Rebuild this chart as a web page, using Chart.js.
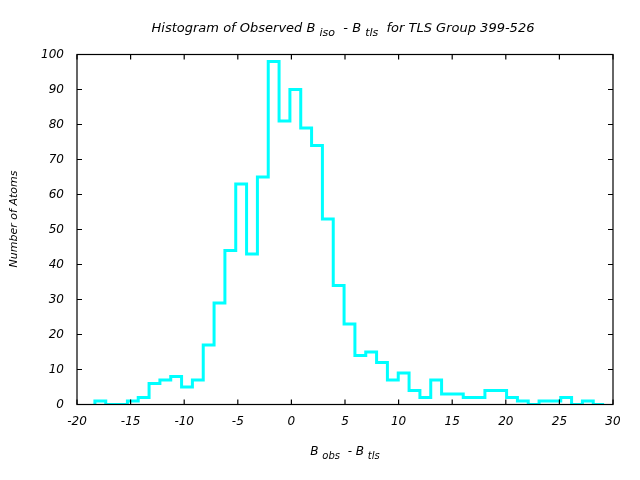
<!DOCTYPE html>
<html>
<head>
<meta charset="utf-8">
<script src="https://cdn.jsdelivr.net/npm/chart.js@4"></script>
<style>
  html, body { margin: 0; padding: 0; background: #fff; }
  #wrap { width: 640px; height: 480px; }
</style>
</head>
<body>
<div id="wrap"><canvas id="histo"></canvas></div>
<script>
// histogram bins (left edge of first bin + bin width), counts
const binStart = -18.33;
const binWidth = 1.0106;
const counts = [1, 0, 0, 1, 2, 6, 7, 8, 5, 7, 17, 29, 44, 63, 43, 65, 98, 81, 90, 79,
  74, 53, 34, 23, 14, 15, 12, 7, 9, 4, 2, 7, 3, 3, 2, 2, 4, 4, 2, 1, 0, 1, 1, 2, 0, 1, 0];
const xTicks = [-20, -15, -10, -5, 0, 5, 10, 15, 20, 25, 30];
const yTicks = [0, 10, 20, 30, 40, 50, 60, 70, 80, 90, 100];

const FONT = 'DejaVu Sans';

// step outline: start at baseline, one point per bin edge, close the last bin
const steps = [{ x: binStart, y: 0 }];
counts.forEach((c, i) => steps.push({ x: binStart + i * binWidth, y: c }));
steps.push({ x: binStart + counts.length * binWidth, y: counts[counts.length - 1] });

// draws "B_{sub}" style text pieces
function drawRich(ctx, parts, x, y, size) {
  const subSize = size - 2;
  let w = 0;
  parts.forEach(p => {
    ctx.font = 'italic ' + (p.sub ? subSize : size) + 'px "' + FONT + '"';
    w += ctx.measureText(p.t).width;
  });
  let cx = x - w / 2;
  ctx.textAlign = 'left';
  ctx.textBaseline = 'alphabetic';
  parts.forEach(p => {
    ctx.font = 'italic ' + (p.sub ? subSize : size) + 'px "' + FONT + '"';
    ctx.fillText(p.t, cx, p.sub ? y + 4 : y);
    cx += ctx.measureText(p.t).width;
  });
}

const framePlugin = {
  id: 'frame',
  afterDraw(chart) {
    const { ctx, chartArea: a, scales } = chart;
    ctx.save();
    ctx.strokeStyle = '#000';
    ctx.lineWidth = 1.2;
    ctx.strokeRect(a.left, a.top, a.right - a.left, a.bottom - a.top);
    ctx.beginPath();
    xTicks.forEach(v => {
      const px = scales.x.getPixelForValue(v);
      ctx.moveTo(px, a.bottom); ctx.lineTo(px, a.bottom - 5);
      ctx.moveTo(px, a.top); ctx.lineTo(px, a.top + 5);
    });
    yTicks.forEach(v => {
      const py = scales.y.getPixelForValue(v);
      ctx.moveTo(a.left, py); ctx.lineTo(a.left + 5, py);
      ctx.moveTo(a.right, py); ctx.lineTo(a.right - 5, py);
    });
    ctx.stroke();

    ctx.fillStyle = '#000';
    const mid = (a.left + a.right) / 2;
    drawRich(ctx, [
      { t: 'Histogram of Observed B ' }, { t: 'iso', sub: true },
      { t: '  - B ' }, { t: 'tls', sub: true },
      { t: '  for TLS Group 399-526' }
    ], mid - 2, 32, 13);
    drawRich(ctx, [
      { t: 'B ' }, { t: 'obs', sub: true }, { t: '  - B ' }, { t: 'tls', sub: true }
    ], mid, 455, 12);

    ctx.translate(14, 219);
    ctx.rotate(-Math.PI / 2);
    ctx.font = 'italic 11px "' + FONT + '"';
    ctx.textAlign = 'center';
    ctx.textBaseline = 'middle';
    ctx.fillText('Number of Atoms', 0, 0);
    ctx.restore();
  }
};

const ctx = document.getElementById('histo');

new Chart(ctx, {
  type: 'line',
  data: {
    datasets: [{
      data: steps,
      stepped: 'before',
      borderColor: '#00ffff',
      borderWidth: 3,
      pointRadius: 0,
      fill: false
    }]
  },
  options: {
    responsive: true,
    maintainAspectRatio: false,
    animation: false,
    layout: { padding: { left: 0, right: 27, top: 54.5, bottom: 0 } },
    plugins: { legend: { display: false }, tooltip: { enabled: false } },
    scales: {
      x: {
        type: 'linear', min: -20, max: 30,
        grid: { display: false, drawTicks: false },
        border: { display: false },
        ticks: { stepSize: 5, padding: 10, color: '#000',
          font: { family: FONT, size: 12, style: 'italic' } },
        afterFit(s) { s.height = 480 - 404.5; }
      },
      y: {
        min: 0, max: 100,
        grid: { display: false, drawTicks: false },
        border: { display: false },
        ticks: { stepSize: 10, padding: 13, color: '#000',
          font: { family: FONT, size: 12, style: 'italic' } },
        afterFit(s) { s.width = 77; }
      }
    }
  },
  plugins: [framePlugin]
});
</script>
</body>
</html>
